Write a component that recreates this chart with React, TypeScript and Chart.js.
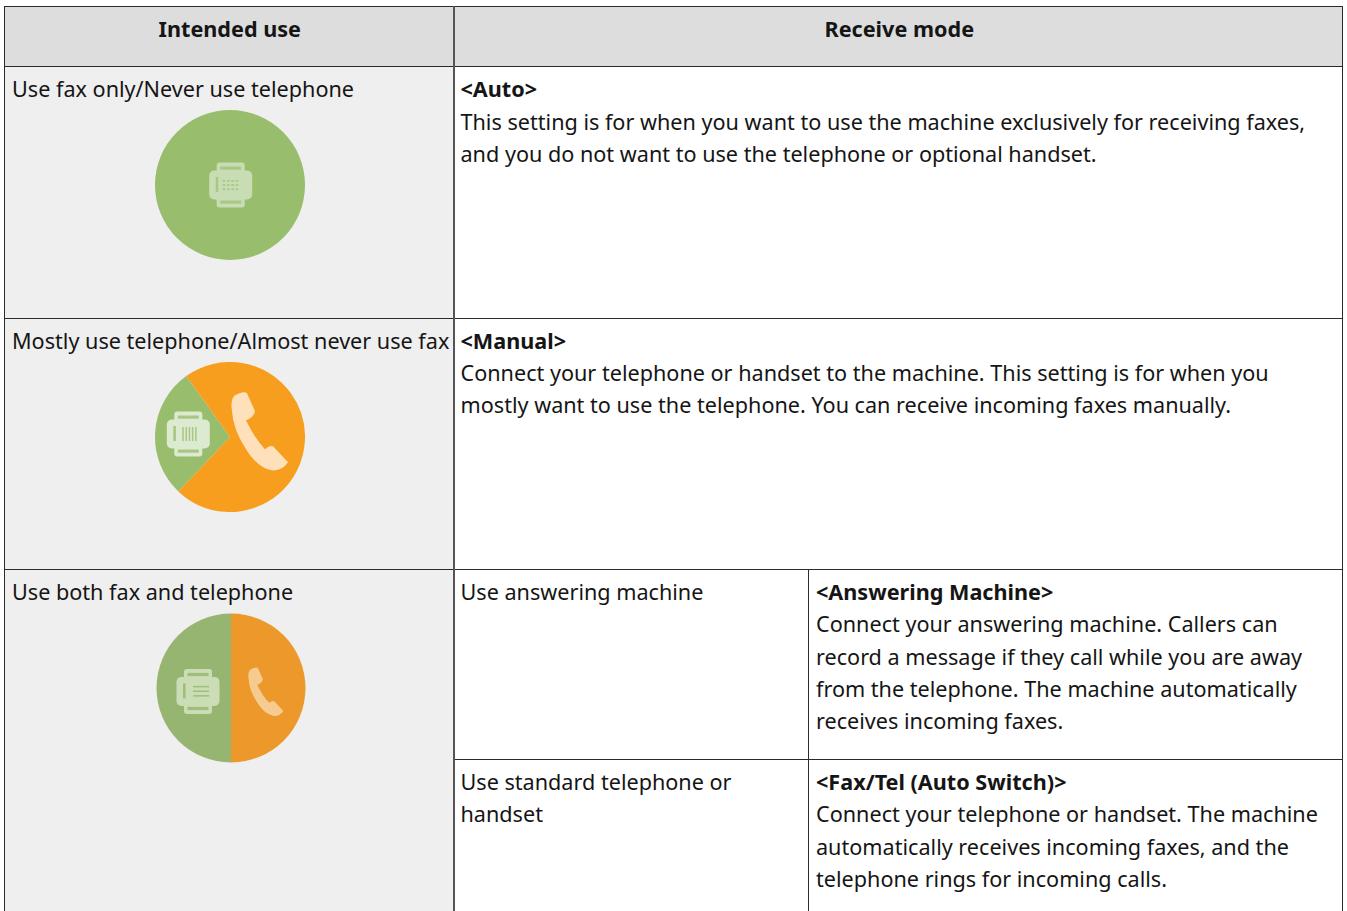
import React, { useEffect, useRef } from "react";
import { Chart, registerables } from "chart.js";

Chart.register(...registerables);

const pieCategories = ["Fax", "Telephone"];
const faxOnlyValues = [100, 0];
const mostlyPhoneValues = [28, 72];
const bothValues = [50, 50];

const headers = ["Intended use", "Receive mode"];
const useLabels = ["Use fax only/Never use telephone", "Mostly use telephone/Almost never use fax", "Use both fax and telephone"];
const subUseLines = [["Use answering machine"], ["Use standard telephone or", "handset"]];
const modeTitles = ["<Auto>", "<Manual>", "<Answering Machine>", "<Fax/Tel (Auto Switch)>"];
const modeLines = [
  ["This setting is for when you want to use the machine exclusively for receiving faxes,", "and you do not want to use the telephone or optional handset."],
  ["Connect your telephone or handset to the machine. This setting is for when you", "mostly want to use the telephone. You can receive incoming faxes manually."],
  ["Connect your answering machine. Callers can", "record a message if they call while you are away", "from the telephone. The machine automatically", "receives incoming faxes."],
  ["Connect your telephone or handset. The machine", "automatically receives incoming faxes, and the", "telephone rings for incoming calls."],
];

type IconSpec = {
  fax: { dx: number; dy: number; color: string; bg: string; inner: "dots" | "bars" | "lines" };
  phone?: { dx: number; dy: number; scale: number; color: string };
};

function roundRect(ctx: CanvasRenderingContext2D, x: number, y: number, w: number, h: number, r: number) {
  ctx.beginPath();
  ctx.roundRect(x, y, w, h, r);
}

function drawFax(ctx: CanvasRenderingContext2D, f: IconSpec["fax"]) {
  ctx.save();
  ctx.translate(f.dx, f.dy);
  ctx.fillStyle = f.color;
  roundRect(ctx, -14, -22.5, 28, 45, 3);
  ctx.fill();
  roundRect(ctx, -21.5, -14.5, 43, 29, 5);
  ctx.fill();
  ctx.fillStyle = f.bg;
  ctx.fillRect(-10.5, -18.5, 21, 3.2);
  ctx.fillRect(-10.5, 15.5, 21, 3.2);
  ctx.fillRect(-15, -8, 2.6, 15);
  if (f.inner === "dots") {
    for (let r = 0; r < 3; r++) for (let c = 0; c < 4; c++) ctx.fillRect(-8 + c * 4.3, -5 + r * 4.2, 2.6, 1.8);
  } else if (f.inner === "bars") {
    for (let c = 0; c < 5; c++) ctx.fillRect(-6 + c * 3.2, -7, 1.5, 14);
  } else {
    for (let r = 0; r < 3; r++) ctx.fillRect(-5, -5.5 + r * 4.6, 16, 1.5);
  }
  ctx.restore();
}

function drawPhone(ctx: CanvasRenderingContext2D, p: NonNullable<IconSpec["phone"]>) {
  ctx.save();
  ctx.translate(p.dx, p.dy);
  ctx.scale(p.scale, p.scale);
  ctx.fillStyle = p.color;
  ctx.beginPath();
  ctx.moveTo(-25, -36);
  ctx.quadraticCurveTo(-16, -41, -13, -38);
  ctx.lineTo(-5, -20);
  ctx.quadraticCurveTo(-6, -14, -14, -11);
  ctx.quadraticCurveTo(-6, 6, 5, 18);
  ctx.quadraticCurveTo(9, 14, 13, 15);
  ctx.lineTo(28, 31);
  ctx.quadraticCurveTo(22, 40, 12, 39);
  ctx.quadraticCurveTo(-2, 37, -14, 18);
  ctx.quadraticCurveTo(-27, -2, -28, -20);
  ctx.quadraticCurveTo(-30, -32, -25, -36);
  ctx.closePath();
  ctx.fill();
  ctx.restore();
}

function Pie({ values, colors, rotation, icons, left = -2, radius = "100%" }: { values: number[]; colors: string[]; rotation: number; icons: IconSpec; left?: number; radius?: string }) {
  const ref = useRef<HTMLCanvasElement>(null);
  useEffect(() => {
    const chart = new Chart(ref.current!, {
      type: "pie",
      data: { labels: pieCategories, datasets: [{ data: values, backgroundColor: colors, borderWidth: 0 }] },
      options: {
        animation: false,
        responsive: false,
        rotation,
        radius,
        layout: { padding: 0 },
        plugins: { legend: { display: false }, tooltip: { enabled: false } },
      },
      plugins: [
        {
          id: "icons",
          afterDatasetsDraw(c: Chart) {
            const ctx = c.ctx;
            const a = c.chartArea;
            ctx.save();
            ctx.translate((a.left + a.right) / 2, (a.top + a.bottom) / 2);
            ctx.filter = "blur(0.7px)";
            drawFax(ctx, icons.fax);
            if (icons.phone) drawPhone(ctx, icons.phone);
            ctx.restore();
          },
        },
      ],
    });
    return () => chart.destroy();
  }, []);
  return <canvas ref={ref} width={150} height={150} style={{ display: "block", margin: "5px auto 0", position: "relative", left }} />;
}

const line = "1px solid #2b2b2b";
const cell: React.CSSProperties = { border: line, padding: "6px 0 0 6px", verticalAlign: "top", whiteSpace: "nowrap", overflow: "hidden" };
const modeCell: React.CSSProperties = { ...cell, paddingLeft: 7 };
const useCell: React.CSSProperties = { ...cell, background: "#efefef", borderRight: "2px solid #555", paddingLeft: 7 };
const head: React.CSSProperties = { ...cell, background: "#dddddd", textAlign: "center", fontWeight: 700, paddingLeft: 2 };

function Lines({ title, lines }: { title?: string; lines: string[] }) {
  return (
    <>
      {title && <div style={{ fontWeight: 700 }}>{title}</div>}
      {lines.map((l) => (
        <div key={l}>{l}</div>
      ))}
    </>
  );
}

export default function App() {
  return (
    <div style={{ position: "fixed", inset: 0, overflow: "hidden", background: "#fff" }}>
      <table
        style={{
          position: "absolute",
          left: 4,
          top: 6,
          width: 1338,
          tableLayout: "fixed",
          borderCollapse: "collapse",
          fontFamily: "'Noto Sans', sans-serif",
          fontSize: 21.62,
          lineHeight: "32.25px",
          color: "#151515",
        }}
      >
        <colgroup>
          <col style={{ width: 449 }} />
          <col style={{ width: 355 }} />
          <col style={{ width: 534 }} />
        </colgroup>
        <tbody>
          <tr style={{ height: 60 }}>
            <th style={{ ...head, borderRight: "2px solid #555" }}>{headers[0]}</th>
            <th style={head} colSpan={2}>{headers[1]}</th>
          </tr>
          <tr style={{ height: 252 }}>
            <td style={useCell}>
              {useLabels[0]}
              <Pie values={faxOnlyValues} colors={["#98bd6d", "#f79e1f"]} rotation={0}
                icons={{ fax: { dx: 0.7, dy: 0, color: "#c9ddb4", bg: "#a9c888", inner: "dots" } }} />
            </td>
            <td style={{ ...cell, paddingTop: 6.3 }} colSpan={2}><Lines title={modeTitles[0]} lines={modeLines[0]} /></td>
          </tr>
          <tr style={{ height: 251 }}>
            <td style={useCell}>
              {useLabels[1]}
              <Pie values={mostlyPhoneValues} colors={["#98bd6d", "#f79e1f"]} rotation={223.5}
                icons={{
                  fax: { dx: -41.7, dy: -3, color: "#dceacf", bg: "#a8c785", inner: "bars" },
                  phone: { dx: 30, dy: -5.7, scale: 1, color: "#fee0ba" },
                }} />
            </td>
            <td style={{ ...cell, paddingTop: 5.7 }} colSpan={2}><Lines title={modeTitles[1]} lines={modeLines[1]} /></td>
          </tr>
          <tr style={{ height: 190 }}>
            <td style={useCell} rowSpan={2}>
              {useLabels[2]}
              <Pie values={bothValues} colors={["#96b570", "#ec982b"]} rotation={180} left={-1} radius="99.3%"
                icons={{
                  fax: { dx: -33, dy: 3.4, color: "#cbddb5", bg: "#a0bd7d", inner: "lines" },
                  phone: { dx: 35, dy: 3.7, scale: 0.62, color: "#f5cb90" },
                }} />
            </td>
            <td style={cell}><Lines lines={subUseLines[0]} /></td>
            <td style={modeCell}><Lines title={modeTitles[2]} lines={modeLines[2]} /></td>
          </tr>
          <tr style={{ height: 190 }}>
            <td style={cell}><Lines lines={subUseLines[1]} /></td>
            <td style={modeCell}><Lines title={modeTitles[3]} lines={modeLines[3]} /></td>
          </tr>
        </tbody>
      </table>
    </div>
  );
}
